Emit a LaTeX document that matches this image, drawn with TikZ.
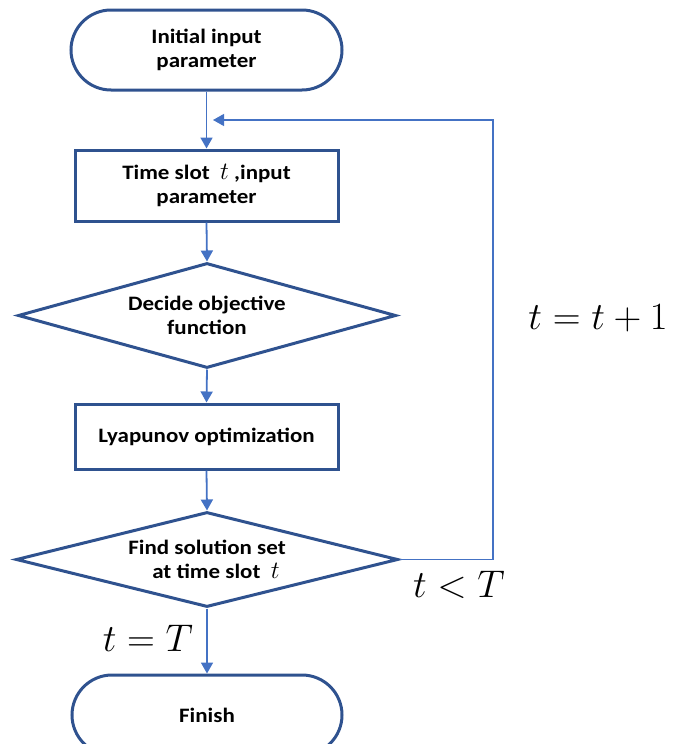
\documentclass[tikz,border=0pt]{standalone}
\usepackage{fontspec}
\setmainfont{Carlito}[FakeStretch=1.12]
\usetikzlibrary{shapes.geometric,shapes.misc,arrows.meta}
\definecolor{bord}{HTML}{2F528F}
\definecolor{arr}{HTML}{4472C4}
\newcommand{\bigmath}[1]{\scalebox{1.86}{$#1$}}
\newcommand{\mt}{\scalebox{1.2}{$t$}}
\begin{document}
\begin{tikzpicture}[x=1pt,y=-1pt,
 every node/.style={font=\fontsize{20.5}{23.5}\selectfont\bfseries, align=center},
 term/.style={rounded rectangle, draw=bord, line width=3pt, minimum width=271pt, minimum height=80pt, inner sep=0pt},
 proc/.style={rectangle, draw=bord, line width=3pt, minimum width=263pt, minimum height=71pt, inner sep=0pt},
 dec/.style={diamond, draw=bord, line width=3pt, minimum width=378pt, minimum height=105pt, inner sep=0pt, aspect=3.6},
 flow/.style={draw=arr, line width=1.8pt, -{Triangle[length=11pt,width=12pt]}},
 lbl/.style={font=\fontsize{20}{24}\selectfont}]
\useasboundingbox (0,0) rectangle (684,744);
\clip (0,0) rectangle (684,744);
\node[term] (start) at (206.5,50) {Initial input\\parameter};
\node[proc] (s1) at (206.5,185.5) {Time slot \ \mt\ ,input\\parameter};
\node[dec] (d1) at (207,315.5) {Decide objective\\function};
\node[proc, minimum height=65pt] (s2) at (206.5,436.5) {Lyapunov optimization};
\node[dec, minimum width=382pt, minimum height=95pt] (d2) at (207,559.5) {Find solution set\\\hspace*{18pt}at time slot \ \mt};
\node[term, minimum width=270pt] (fin) at (207,715) {Finish};
\coordinate (c1) at (493,120);
\coordinate (fb) at (213,120);
\draw[flow] (start.south) -- (s1.north);
\draw[flow] (s1.south) -- (d1.north);
\draw[flow] (d1.south) -- (s2.north);
\draw[flow] (s2.south) -- (d2.north);
\draw[flow] (d2.south) -- (fin.north);
\draw[flow, line width=1.3pt] (d2.east) -| (c1) -- (fb);
\node[lbl] (l1) at (598,318) {\bigmath{t=t+1}};
\node[lbl] (l2) at (459,585) {\bigmath{t<T}};
\node[lbl] (l3) at (148,638) {\bigmath{t=T}};
\end{tikzpicture}
\end{document}
